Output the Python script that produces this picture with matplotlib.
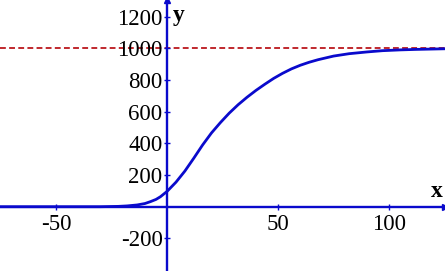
import matplotlib
matplotlib.use('Agg')
import matplotlib.pyplot as plt

# points
xs = [-75, -30, -22, -18, -13.5, -10, -7.5, -5, -3, 0, 4, 8, 12, 16, 20, 24, 28, 32,
      36, 40, 44, 48, 52, 56, 60, 64, 68, 75, 82, 90, 97, 105, 112, 125]
ys = [0, 0, 2, 5, 11, 20, 32, 46, 63, 97, 155, 225, 306, 390, 466, 531, 591, 644,
      691, 734, 773, 810, 842, 870, 893, 912, 928, 951, 966, 977, 985, 990, 993, 997]

asymptote = 1000
x_ticks = [-50, 50, 100]
y_ticks = [-200, 200, 400, 600, 800, 1000, 1200]

blue = '#0a0acc'
red = '#c0282d'

plt.rcParams['font.family'] = ['Liberation Serif', 'DejaVu Serif']
plt.rcParams['axes.unicode_minus'] = False

fig = plt.figure(figsize=(4.45, 2.71), dpi=100)
ax = fig.add_axes([0, 0, 1, 1])
ax.set_xlim(-75.3, 125.2)
ax.set_ylim(-406, 1305)

ax.axhline(asymptote, color=red, lw=1.4, dashes=(3.0, 1.7), zorder=1)
ax.plot(xs, ys, color=blue, lw=2.0, zorder=3, solid_joinstyle='round')

for side in ['top', 'right']:
    ax.spines[side].set_visible(False)
ax.spines['left'].set_position(('data', 0))
ax.spines['bottom'].set_position(('data', 0))
for side in ['left', 'bottom']:
    ax.spines[side].set_color(blue)
    ax.spines[side].set_linewidth(1.7)
    ax.spines[side].set_zorder(2)

# arrow heads on the axes
ax.plot(1, 0, '>', color=blue, ms=4, transform=ax.get_yaxis_transform(), clip_on=False)
ax.plot(0, 1, '^', color=blue, ms=4, transform=ax.get_xaxis_transform(), clip_on=False)

ax.set_xticks(x_ticks)
ax.set_yticks(y_ticks)
ax.tick_params(direction='inout', length=4.5, width=1, color=blue,
               labelsize=16.5, pad=1.0)
ax.tick_params(axis='x', pad=3.0)
ax.patch.set_visible(False)

ax.text(121.7, 93, 'x', fontsize=17, fontweight='bold', ha='center', va='center')
ax.text(5.2, 1205, 'y', fontsize=17, fontweight='bold', ha='center', va='center')

fig.savefig('out.png', dpi=100)
